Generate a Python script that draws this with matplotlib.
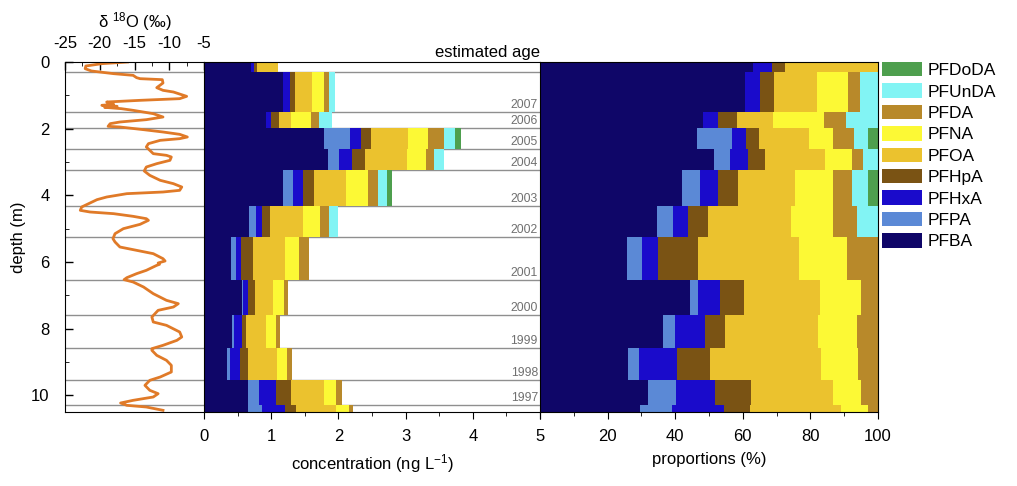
import matplotlib
matplotlib.use('Agg')
import matplotlib.pyplot as plt
import numpy as np

plt.rcParams['font.family'] = ['Liberation Sans', 'DejaVu Sans']
plt.rcParams['mathtext.default'] = 'regular'
plt.rcParams['axes.unicode_minus'] = False

# sample depth boundaries (m) and estimated ages
bounds = [0, 0.30, 1.50, 1.97, 2.62, 3.25, 4.32, 5.25, 6.53, 7.58, 8.58, 9.55, 10.28, 10.5]
years = ['', '2007', '2006', '2005', '2004', '2003', '2002', '2001', '2000', '1999', '1998', '1997']

compounds = ['PFBA', 'PFPA', 'PFHxA', 'PFHpA', 'PFOA', 'PFNA', 'PFDA', 'PFUnDA', 'PFDoDA']
colors = ['#0f0668', '#5b89d6', '#1a0bcb', '#7a5314', '#ebc22e', '#fcf935', '#b8892a', '#82f4f4', '#4e9f4e']

# concentrations (ng/L) per sample
conc_pfba = [0.70, 1.18, 0.92, 1.78, 1.84, 1.17, 0.67, 0.40, 0.56, 0.42, 0.34, 0.65, 0.65]
conc_pfpa = [0, 0, 0, 0.39, 0.17, 0.15, 0.11, 0.07, 0.02, 0.03, 0.04, 0.17, 0.21]
conc_pfhxa = [0.05, 0.10, 0.08, 0.17, 0.19, 0.16, 0.09, 0.08, 0.08, 0.11, 0.16, 0.25, 0.34]
conc_pfhpa = [0.04, 0.07, 0.11, 0.15, 0.19, 0.16, 0.11, 0.18, 0.10, 0.07, 0.12, 0.22, 0.17]
conc_pfoa = [0.31, 0.26, 0.19, 0.55, 0.63, 0.48, 0.50, 0.47, 0.27, 0.30, 0.43, 0.50, 0.60]
conc_pfna = [0, 0.18, 0.29, 0.29, 0.28, 0.32, 0.25, 0.22, 0.16, 0.14, 0.15, 0.17, 0.19]
conc_pfda = [0, 0.07, 0.12, 0.24, 0.13, 0.15, 0.13, 0.14, 0.06, 0.06, 0.07, 0.10, 0.05]
conc_pfunda = [0, 0.09, 0.19, 0.16, 0.14, 0.13, 0.13, 0, 0, 0, 0, 0, 0]
conc_pfdoda = [0, 0, 0, 0.10, 0, 0.08, 0, 0, 0, 0, 0, 0, 0]

# proportions (%) per sample
prop_pfba = [63.0, 60.7, 48.3, 46.5, 51.6, 41.9, 34.5, 25.8, 44.5, 36.4, 26.1, 31.9, 29.6]
prop_pfpa = [0, 0, 0, 10.2, 4.6, 5.4, 4.9, 4.5, 2.3, 3.6, 3.2, 8.2, 9.4]
prop_pfhxa = [5.5, 4.4, 4.3, 4.2, 5.3, 5.3, 4.5, 4.5, 6.5, 8.8, 11.3, 11.7, 15.5]
prop_pfhpa = [4.0, 4.0, 5.6, 4.0, 5.1, 5.9, 5.9, 12.0, 7.2, 5.9, 9.7, 10.6, 7.6]
prop_pfoa = [27.5, 12.9, 10.6, 14.7, 17.7, 16.9, 24.5, 29.7, 22.4, 27.5, 32.8, 24.4, 27.0]
prop_pfna = [0, 9.0, 15.3, 7.2, 7.9, 11.4, 12.5, 14.2, 12.1, 11.5, 10.9, 8.2, 8.0]
prop_pfda = [0, 3.7, 6.3, 6.2, 3.4, 5.6, 6.9, 9.3, 5.0, 6.3, 6.0, 5.0, 2.9]
prop_pfunda = [0, 5.3, 9.6, 4.1, 4.4, 4.7, 6.3, 0, 0, 0, 0, 0, 0]
prop_pfdoda = [0, 0, 0, 2.9, 0, 2.9, 0, 0, 0, 0, 0, 0, 0]

# delta 18O profile
d18o_depth = [0.0, 0.05, 0.12, 0.20, 0.27, 0.35, 0.40, 0.47, 0.50, 0.53, 0.63, 0.77, 0.85,
              0.90, 1.03, 1.10, 1.15, 1.20, 1.27, 1.30, 1.33, 1.36, 1.40, 1.45, 1.55, 1.65,
              1.73, 1.80, 1.85, 1.93, 1.95, 2.03, 2.10, 2.17, 2.25, 2.30, 2.35, 2.45, 2.55,
              2.75, 2.80, 2.85, 2.95, 3.05, 3.15, 3.27, 3.40, 3.55, 3.65, 3.75, 3.85, 3.90,
              3.95, 4.05, 4.13, 4.23, 4.35, 4.45, 4.50, 4.55, 4.63, 4.70, 4.75, 4.87, 5.00,
              5.15, 5.30, 5.40, 5.55, 5.65, 5.75, 5.90, 5.97, 6.03, 6.07, 6.10, 6.25, 6.35,
              6.47, 6.53, 6.60, 6.75, 6.95, 7.15, 7.25, 7.35, 7.45, 7.65, 7.80, 7.90, 8.10,
              8.25, 8.35, 8.50, 8.60, 8.65, 8.80, 8.95, 9.10, 9.30, 9.45, 9.55, 9.70, 9.85,
              9.95, 10.05, 10.15, 10.23, 10.30, 10.35, 10.45]
d18o_value = [-16.0, -19.7, -22.0, -22.1, -21.2, -18.0, -15.2, -14.7, -14.2, -11.0, -10.9, -11.8,
              -10.9, -9.4, -7.5, -8.5, -14.2, -19.0, -18.0, -19.7, -17.5, -19.3, -16.9, -15.2,
              -12.3, -10.9, -13.3, -17.1, -18.5, -18.8, -17.1, -13.7, -10.9, -8.5, -7.4, -8.5,
              -11.3, -13.0, -13.3, -12.3, -10.4, -9.7, -9.9, -11.8, -13.3, -13.6, -12.8, -11.3,
              -9.4, -8.2, -8.5, -10.9, -16.1, -19.0, -20.4, -21.4, -22.6, -22.8, -21.4, -18.0,
              -15.2, -13.3, -13.0, -14.2, -16.6, -17.8, -18.1, -17.8, -17.1, -14.7, -12.3, -10.9,
              -10.6, -11.6, -11.4, -11.8, -13.3, -14.7, -16.1, -16.5, -15.2, -13.7, -12.3, -10.4,
              -8.7, -9.4, -11.6, -12.5, -12.3, -10.4, -8.5, -8.2, -8.9, -10.9, -12.5, -12.5,
              -11.8, -10.4, -9.7, -9.7, -11.3, -12.8, -13.5, -12.8, -11.6, -12.3, -15.2, -17.0,
              -16.1, -13.3, -10.9]

conc = [conc_pfba, conc_pfpa, conc_pfhxa, conc_pfhpa, conc_pfoa, conc_pfna, conc_pfda, conc_pfunda, conc_pfdoda]
prop = [prop_pfba, prop_pfpa, prop_pfhxa, prop_pfhpa, prop_pfoa, prop_pfna, prop_pfda, prop_pfunda, prop_pfdoda]

tops = np.array(bounds[:-1])
heights = np.diff(bounds)

fig = plt.figure(figsize=(10.17, 4.86), dpi=100)
ax1 = fig.add_axes([65/1017, 74/486, 139/1017, 350/486])
ax2 = fig.add_axes([204/1017, 74/486, 336/1017, 350/486])
ax3 = fig.add_axes([540/1017, 74/486, 338/1017, 350/486])

line_color = '#8f8f8f'

# left panel: delta 18O
ax1.plot(d18o_value, d18o_depth, color='#e07a28', lw=2)
ax1.set_xlim(-25, -5)
ax1.set_ylim(10.5, 0)
ax1.xaxis.tick_top()
ax1.xaxis.set_label_position('top')
ax1.set_xticks([-25, -20, -15, -10, -5])
ax1.set_xticks(np.arange(-22.5, -5, 5), minor=True)
ax1.set_yticks([0, 2, 4, 6, 8, 10])
ax1.set_yticks([1, 3, 5, 7, 9], minor=True)
ax1.tick_params(direction='in', labelsize=12, length=6, width=1)
ax1.tick_params(which='minor', direction='in', length=3)
ax1.tick_params(axis='x', pad=8)
ax1.tick_params(axis='y', pad=11)
ax1.set_xlabel('δ $^{18}$O (‰)', fontsize=12, labelpad=6)
ax1.set_ylabel('depth (m)', fontsize=12, labelpad=4)
ax1.spines['right'].set_visible(False)
for b in bounds[1:-1]:
    ax1.axhline(b, color=line_color, lw=1, zorder=0)

# middle panel: concentrations
left = np.zeros(len(tops))
for vals, c in zip(conc, colors):
    ax2.barh(tops, vals, height=heights, left=left, align='edge', color=c, linewidth=0, zorder=2)
    left += np.array(vals)
for b in bounds[1:-1]:
    ax2.axhline(b, color=line_color, lw=1, zorder=1)
for b, y in zip(bounds[1:-1], years):
    if y:
        ax2.text(4.97, b - 0.03, y, ha='right', va='bottom', fontsize=8.8, color='#707070')
ax2.set_xlim(0, 5)
ax2.set_ylim(10.5, 0)
ax2.set_yticks([])
ax2.set_xticks([0, 1, 2, 3, 4, 5])
ax2.set_xticks(np.arange(0.5, 5, 1), minor=True)
ax2.tick_params(axis='x', direction='out', labelsize=12, length=5, pad=7)
ax2.tick_params(axis='x', which='minor', direction='out', length=3)
ax2.set_xlabel('concentration (ng L$^{-1}$)', fontsize=12, labelpad=6)
ax2.text(1.0, 1.005, 'estimated age', transform=ax2.transAxes, ha='right', va='bottom', fontsize=12)
ax2.spines['right'].set_visible(False)

# right panel: proportions
left = np.zeros(len(tops))
for vals, c, name in zip(prop, colors, compounds):
    ax3.barh(tops, vals, height=heights, left=left, align='edge', color=c, linewidth=0, label=name)
    left += np.array(vals)
ax3.set_xlim(0, 100)
ax3.set_ylim(10.5, 0)
ax3.set_yticks([])
ax3.set_xticks([0, 20, 40, 60, 80, 100])
ax3.set_xticklabels(['', '20', '40', '60', '80', '100'])
ax3.set_xticks(np.arange(10, 100, 20), minor=True)
ax3.tick_params(axis='x', direction='out', labelsize=12, length=5, pad=7)
ax3.tick_params(axis='x', which='minor', direction='out', length=3)
ax3.set_xlabel('proportions (%)', fontsize=12, labelpad=6)

handles, labels = ax3.get_legend_handles_labels()
ax3.legend(handles[::-1], labels[::-1], loc='upper left', bbox_to_anchor=(1.012, 1.0),
           frameon=False, fontsize=12.5, borderaxespad=0, borderpad=0,
           handlelength=2.3, handleheight=0.9, handletextpad=0.35, labelspacing=0.3)

plt.savefig('out.png', dpi=100)
